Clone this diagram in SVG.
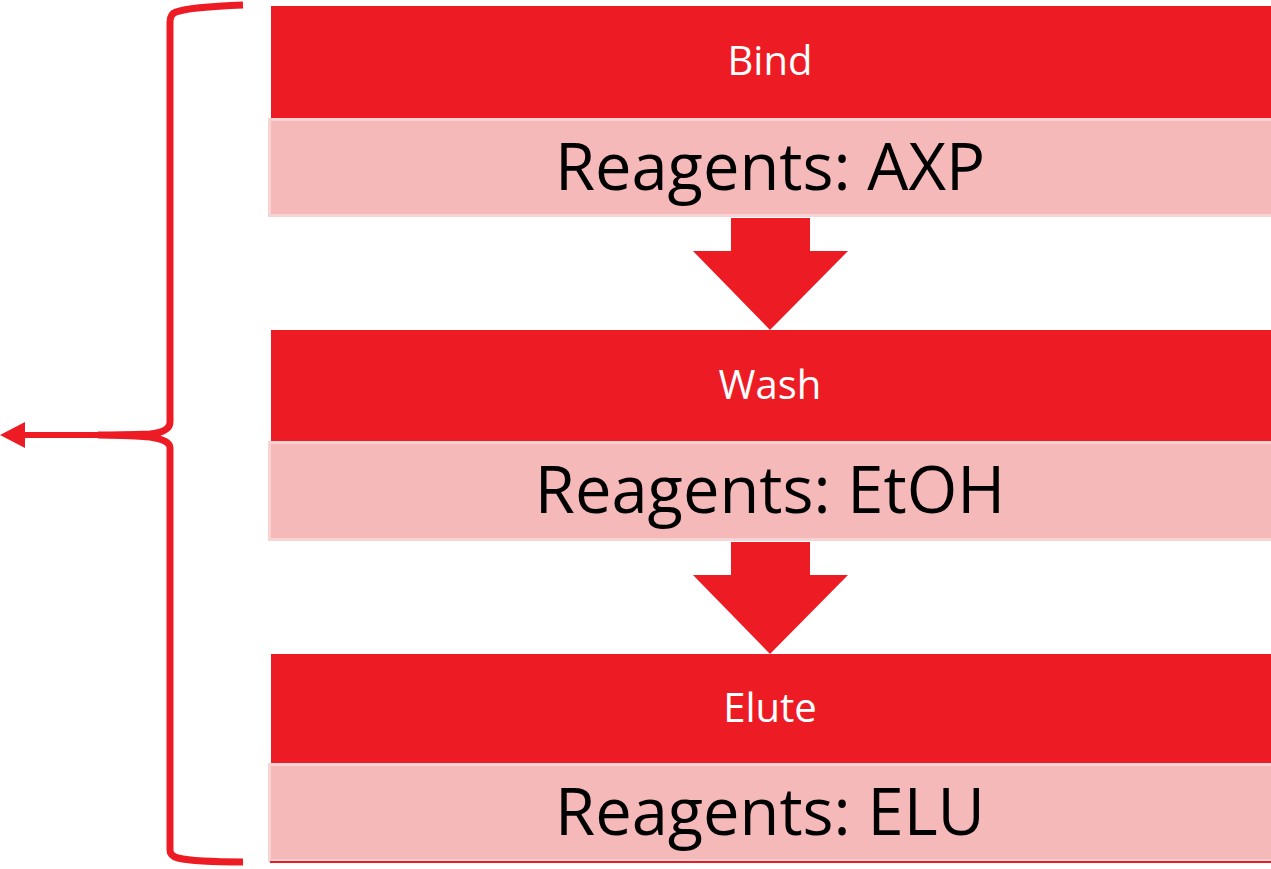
<svg xmlns="http://www.w3.org/2000/svg" width="1271" height="869" viewBox="0 0 1271 869">
<style>
.hdr{fill:#ED1C24}
.body{fill:#F5B9B9;stroke:#F8D3D3;stroke-width:3}
.t1{font-family:"Open Sans","Liberation Sans",sans-serif;font-size:40px;fill:#fff;text-anchor:middle}
.t2{font-family:"Open Sans","Liberation Sans",sans-serif;font-size:65px;fill:#000;text-anchor:middle}
.arr{fill:#ED1C24}
.brace{fill:none;stroke:#ED1C24;stroke-width:7}
</style>
<g id="bind">
<rect class="hdr" x="271" y="6" width="1000" height="112"/>
<rect class="body" x="269.5" y="119.5" width="1003" height="96"/>
<text class="t1" x="770" y="75">Bind</text>
<text class="t2" x="770" y="190">Reagents: AXP</text>
</g>
<g id="wash">
<rect class="hdr" x="271" y="330" width="1000" height="111"/>
<rect class="body" x="269.5" y="442.5" width="1003" height="97"/>
<text class="t1" x="770" y="399">Wash</text>
<text class="t2" x="770" y="513">Reagents: EtOH</text>
</g>
<g id="elute">
<rect class="hdr" x="271" y="654" width="1000" height="109"/>
<rect class="body" x="269.5" y="764.5" width="1003" height="96"/>
<rect x="270" y="861" width="1001" height="2" fill="#ED1C24"/>
<text class="t1" x="770" y="722">Elute</text>
<text class="t2" x="770" y="835">Reagents: ELU</text>
</g>
<g id="connectors">
<polygon class="arr" points="731,218 810,218 810,251 848,251 770,330 693,251 731,251"/>
<polygon class="arr" points="731,542 810,542 810,575 848,575 770,654 693,575 731,575"/>
<path class="brace" d="M243,5 Q190,7 176,12 Q170,14 170,22 L170,422 Q170,432 150,434 Q120,435 98,435 Q120,435 150,437 Q170,440 170,448 L170,850 Q170,856 178,858 Q195,862 243,862"/>
<line x1="100" y1="435" x2="22" y2="435" stroke="#ED1C24" stroke-width="6"/>
<polygon points="0,435 25,422 25,448" fill="#ED1C24"/>
</g>
</svg>
